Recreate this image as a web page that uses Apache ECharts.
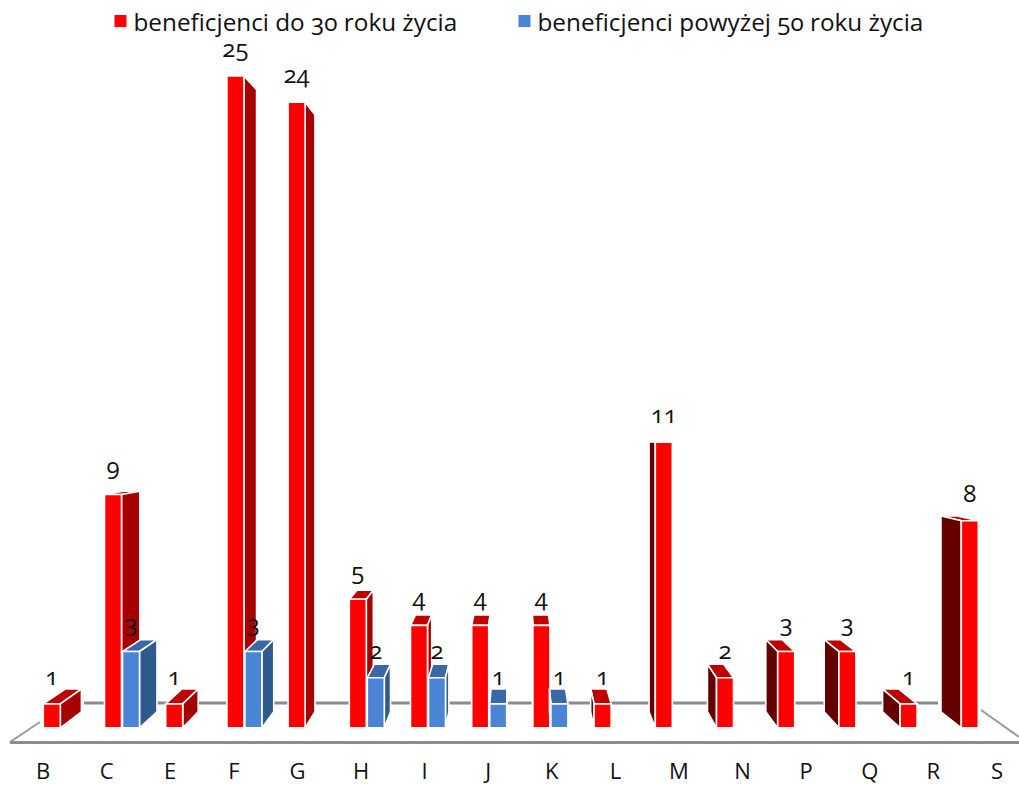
<!DOCTYPE html>
<html><head><meta charset="utf-8">
<style>
html,body{margin:0;padding:0;background:#fff}
#c{width:1019px;height:785px}
svg text{font-feature-settings:"onum" 1 !important;font-variant-numeric:oldstyle-nums !important}
</style>
<script src="https://cdn.jsdelivr.net/npm/echarts@6/dist/echarts.min.js"></script>
</head><body><div id="c"></div>
<script>
const categories = ['B','C','E','F','G','H','I','J','K','L','M','N','P','Q','R','S'];
const youngName = 'beneficjenci do 30 roku życia';
const olderName = 'beneficjenci powyżej 50 roku życia';
const youngValues = [1,9,1,25,24,5,4,4,4,1,11,2,3,3,1,8];
const olderValues = [null,3,null,3,null,2,2,1,1,null,null,null,null,null,null,null];

const FONT = '"Open Sans", "Noto Sans", sans-serif';
const BAR_W = 17, KX = 0.046, KY_BELOW = 0.055, KY_ABOVE = 0.038, VP_VALUE = 11.3, FLOOR_VALUE = 0.08;

function box3d(colors, side) {
  return function (params, api) {
    const i = api.value(0), v = api.value(1);
    if (v == null || isNaN(v)) return null;
    const cs = params.coordSys;
    const vx = cs.x + cs.width * 0.5;
    const vy = api.coord([0, VP_VALUE])[1];
    const top = api.coord([i, v]);
    const base = api.coord([i, FLOOR_VALUE]);
    const xL = side < 0 ? top[0] - BAR_W : top[0] + 1;
    const xR = xL + BAR_W;
    const backX = x => x + (vx - x) * KX;
    const backY = y => y + (vy - y) * (y > vy ? KY_BELOW : KY_ABOVE);
    const yT = top[1], yB = base[1];
    const stroke = {stroke: '#fff', lineWidth: 1.6, lineJoin: 'miter'};
    const poly = (pts, fill) => ({type: 'polygon', shape: {points: pts}, style: Object.assign({fill}, stroke)});
    const ch = [];
    if (yT > vy) ch.push(poly([[xL,yT],[xR,yT],[backX(xR),backY(yT)],[backX(xL),backY(yT)]], colors.top));
    if (xR < vx - 1) ch.push(poly([[xR,yT],[xR,yB],[backX(xR),backY(yB)],[backX(xR),backY(yT)]], colors.right));
    if (xL > vx + 1) ch.push(poly([[xL,yT],[xL,yB],[backX(xL),backY(yB)],[backX(xL),backY(yT)]], colors.left));
    ch.push({type:'rect', shape:{x:xL,y:yT,width:BAR_W,height:yB-yT}, style:Object.assign({fill:colors.front},stroke)});
    ch.push({type:'text', style:{text:String(v), x:(xL+xR)/2, y:yT-28.6, fill:'#111', font:'24px '+FONT, align:'center', verticalAlign:'middle'}});
    return {type:'group', children: ch};
  };
}
const RED = {front:'#ff0000', right:'#a80000', left:'#640000', top:'#c00000'};
const BLUE = {front:'#4a84d4', right:'#2f5a8e', left:'#2f5a8e', top:'#3868a8'};

const chart = echarts.init(document.getElementById('c'), null, {renderer:'svg'});
chart.setOption({
  animation:false,
  backgroundColor:'#fff',
  legend:{
    left:114.5, top:9, padding:0, itemWidth:12, itemHeight:12, itemGap:60, icon:'rect',
    selectedMode:false,
    data:[youngName, olderName],
    textStyle:{fontFamily:FONT, fontSize:24.3, color:'#111', padding:[0,0,0,2]}
  },
  grid:[
    {left:29.7, top:76, width:979.2, bottom:55, outerBoundsMode:'none'},
    {left:11.2, top:76, width:1017.6, bottom:43, outerBoundsMode:'none'}
  ],
  xAxis:[
    {gridIndex:0, type:'category', data:categories, axisLine:{show:false}, axisTick:{show:false}, axisLabel:{show:false}},
    {gridIndex:1, type:'category', data:categories, axisLine:{show:true, lineStyle:{color:'#8c8c8c', width:3}}, axisTick:{show:false},
     axisLabel:{color:'#111', fontFamily:FONT, fontSize:22, margin:17, hideOverlap:false, interval:0}}
  ],
  yAxis:[
    {gridIndex:0, type:'value', min:0, max:25, show:false},
    {gridIndex:1, type:'value', min:0, max:25, show:false}
  ],
  graphic:[
    {type:'line', z:0, shape:{x1:84,y1:703,x2:938,y2:703}, style:{stroke:'#8c8c8c', lineWidth:3}},
    {type:'line', z:0, shape:{x1:10,y1:742,x2:40,y2:722}, style:{stroke:'#9a9a9a', lineWidth:2}},
    {type:'line', z:0, shape:{x1:981,y1:710,x2:1019,y2:737}, style:{stroke:'#9a9a9a', lineWidth:2}}
  ],
  series:[
    {name:youngName, type:'custom', xAxisIndex:0, yAxisIndex:0, clip:false, itemStyle:{color:RED.front},
     encode:{x:0,y:1}, data:youngValues.map((v,i)=>[i,v]), renderItem:box3d(RED,-1)},
    {name:olderName, type:'custom', xAxisIndex:0, yAxisIndex:0, clip:false, itemStyle:{color:BLUE.front}, z:3,
     encode:{x:0,y:1}, data:olderValues.map((v,i)=>[i,v==null?'-':v]), renderItem:box3d(BLUE,1)}
  ]
});
</script></body></html>
